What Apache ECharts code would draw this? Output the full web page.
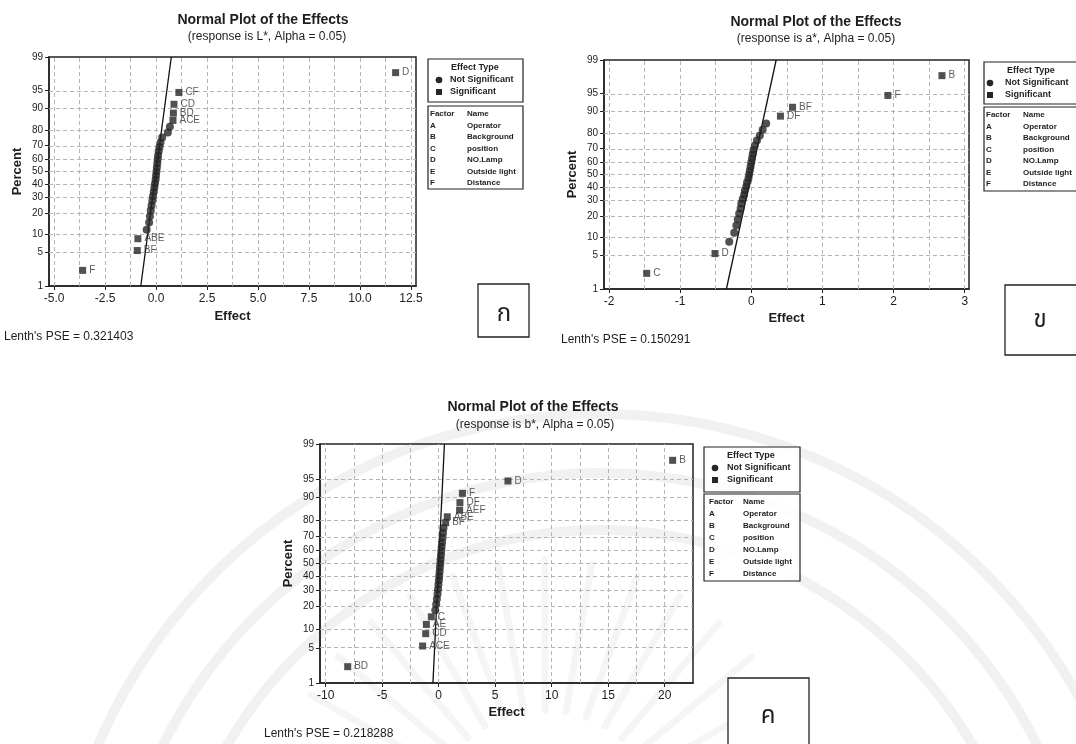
<!DOCTYPE html>
<html>
<head>
<meta charset="utf-8">
<script src="https://cdn.jsdelivr.net/npm/echarts@6/dist/echarts.min.js"></script>
<style>
  html, body { margin: 0; padding: 0; background: #fff; }
  #chart { width: 1076px; height: 744px; }
</style>
</head>
<body>
<div id="chart"></div>
<script>
// Percent ticks of the normal probability axis
const percentTicks = [1, 5, 10, 20, 30, 40, 50, 60, 70, 80, 90, 95, 99];

// Response L*: effects in ascending order, term names ('' = not significant)
const effectsL = [-3.60, -0.92, -0.89, -0.46, -0.34, -0.30, -0.26, -0.22, -0.18, -0.15,
                  -0.11, -0.08, -0.05, -0.02, 0.00, 0.02, 0.04, 0.06, 0.08, 0.10,
                  0.13, 0.17, 0.22, 0.30, 0.58, 0.68, 0.83, 0.85, 0.88, 1.12, 11.75];
const termsL = ['F', 'BF', 'ABE', '', '', '', '', '', '', '',
                '', '', '', '', '', '', '', '', '', '',
                '', '', '', '', '', '', 'ACE', 'BD', 'CD', 'CF', 'D'];
const pseL = 0.321403;
const xTicksL = [-5.0, -2.5, 0.0, 2.5, 5.0, 7.5, 10.0, 12.5];

// Response a*
const effectsA = [-1.47, -0.51, -0.31, -0.24, -0.21, -0.19, -0.17, -0.15, -0.14, -0.12,
                  -0.10, -0.09, -0.07, -0.06, -0.04, -0.03, -0.02, -0.01, 0.00, 0.01,
                  0.02, 0.03, 0.05, 0.08, 0.12, 0.16, 0.21, 0.41, 0.58, 1.92, 2.68];
const termsA = ['C', 'D', '', '', '', '', '', '', '', '',
                '', '', '', '', '', '', '', '', '', '',
                '', '', '', '', '', '', '', 'DF', 'BF', 'F', 'B'];
const pseA = 0.150291;
const xTicksA = [-2, -1, 0, 1, 2, 3];

// Response b*
const effectsB = [-8.05, -1.42, -1.15, -1.09, -0.65, -0.30, -0.22, -0.16, -0.10, -0.06,
                  -0.02, 0.02, 0.05, 0.08, 0.11, 0.14, 0.17, 0.20, 0.23, 0.26,
                  0.30, 0.34, 0.38, 0.43, 0.62, 0.76, 1.85, 1.88, 2.10, 6.13, 20.70];
const termsB = ['BD', 'ACE', 'CD', 'AE', 'C', '', '', '', '', '',
                '', '', '', '', '', '', '', '', '', '',
                '', '', '', '', 'BF', 'ABE', 'AEF', 'DF', 'F', 'D', 'B'];
const pseB = 0.218288;
const xTicksB = [-10, -5, 0, 5, 10, 15, 20];

// Factor table shown beside each plot
const factorCodes = ['A', 'B', 'C', 'D', 'E', 'F'];
const factorNames = ['Operator', 'Background', 'position', 'NO.Lamp', 'Outside light', 'Distance'];

const FONT = 'Liberation Sans, Arial, sans-serif';
const INK = '#1e1e1e';

// Inverse standard normal CDF (Acklam) for the probability axis
function invNorm(p) {
  const a = [-3.969683028665376e+01, 2.209460984245205e+02, -2.759285104469687e+02,
             1.383577518672690e+02, -3.066479806614716e+01, 2.506628277459239e+00];
  const b = [-5.447609879822406e+01, 1.615858368580409e+02, -1.556989798598866e+02,
             6.680131188771972e+01, -1.328068155288572e+01];
  const c = [-7.784894002430293e-03, -3.223964580411365e-01, -2.400758277161838e+00,
             -2.549732539343734e+00, 4.374664141464968e+00, 2.938163982698783e+00];
  const d = [7.784695709041462e-03, 3.224671290700398e-01, 2.445134137142996e+00,
             3.754408661907416e+00];
  const pl = 0.02425, ph = 1 - pl;
  let q, r;
  if (p < pl) {
    q = Math.sqrt(-2 * Math.log(p));
    return (((((c[0]*q+c[1])*q+c[2])*q+c[3])*q+c[4])*q+c[5]) / ((((d[0]*q+d[1])*q+d[2])*q+d[3])*q+1);
  }
  if (p <= ph) {
    q = p - 0.5; r = q * q;
    return (((((a[0]*r+a[1])*r+a[2])*r+a[3])*r+a[4])*r+a[5])*q / (((((b[0]*r+b[1])*r+b[2])*r+b[3])*r+b[4])*r+1);
  }
  q = Math.sqrt(-2 * Math.log(1 - p));
  return -(((((c[0]*q+c[1])*q+c[2])*q+c[3])*q+c[4])*q+c[5]) / ((((d[0]*q+d[1])*q+d[2])*q+d[3])*q+1);
}

const zTicks = percentTicks.map(p => invNorm(p / 100));
const Z_LO = zTicks[0], Z_HI = zTicks[zTicks.length - 1];

function percentLabel(v) {
  let best = 0, bd = Infinity;
  zTicks.forEach((z, i) => { const dd = Math.abs(z - v); if (dd < bd) { bd = dd; best = i; } });
  return String(percentTicks[best]);
}

// Plotting position of the i-th ordered effect (Bernard's median rank)
function plotPosition(i, n) { return invNorm((i + 1 - 0.3) / (n + 0.4)); }

const panels = [
  { effects: effectsL, terms: termsL, pse: pseL, ticks: xTicksL, decimals: 1,
    xMin: -5.25, xMax: 12.75, grid: { left: 49, top: 57, width: 367, height: 229 }, gapY: 25, gapX: 24 },
  { effects: effectsA, terms: termsA, pse: pseA, ticks: xTicksA, decimals: 0,
    xMin: -2.07, xMax: 3.06, grid: { left: 604, top: 60, width: 365, height: 229 }, gapY: 25, gapX: 23 },
  { effects: effectsB, terms: termsB, pse: pseB, ticks: xTicksB, decimals: 0,
    xMin: -10.5, xMax: 22.5, grid: { left: 320, top: 444, width: 373, height: 239 }, gapY: 25, gapX: 23 }
];

const grid = [], xAxis = [], yAxis = [], series = [];

panels.forEach((pl, k) => {
  grid.push(Object.assign({ show: true, borderColor: '#222', borderWidth: 1.5,
    backgroundColor: 'transparent', containLabel: false, outerBoundsMode: 'none' }, pl.grid));

  // vertical grid lines at major ticks and halfway between them
  const step = pl.ticks[1] - pl.ticks[0];
  const vLines = [];
  pl.ticks.forEach(t => { vLines.push(t); vLines.push(t + step / 2); });
  vLines.push(pl.ticks[0] - step / 2);
  const gridLines = vLines.filter(v => v > pl.xMin && v < pl.xMax).map(v => ({ xAxis: v }))
    .concat(zTicks.slice(1, -1).map(z => ({ yAxis: z })));

  xAxis.push({
    type: 'value', gridIndex: k, min: pl.xMin, max: pl.xMax,
    name: 'Effect', nameLocation: 'middle', nameGap: pl.gapX,
    nameTextStyle: { fontFamily: FONT, fontWeight: 'bold', fontSize: 13, color: INK },
    axisLine: { show: true, onZero: false, lineStyle: { color: '#222', width: 1.5 } },
    axisTick: { show: true, inside: false, length: 4, customValues: pl.ticks, lineStyle: { color: '#222' } },
    axisLabel: { customValues: pl.ticks, margin: 7, fontFamily: FONT, fontSize: 12, color: INK,
      formatter: v => v.toFixed(pl.decimals) },
    splitLine: { show: false }
  });
  yAxis.push({
    type: 'value', gridIndex: k, min: Z_LO, max: Z_HI,
    name: 'Percent', nameLocation: 'middle', nameRotate: 90, nameGap: pl.gapY,
    nameTextStyle: { fontFamily: FONT, fontWeight: 'bold', fontSize: 13, color: INK },
    axisLine: { show: true, onZero: false, lineStyle: { color: '#222', width: 1.5 } },
    axisTick: { show: true, inside: false, length: 4, customValues: zTicks, lineStyle: { color: '#222' } },
    axisLabel: { customValues: zTicks, margin: 6, fontFamily: FONT, fontSize: 10, color: INK,
      formatter: percentLabel },
    splitLine: { show: false }
  });

  // reference line: effect = PSE * z
  series.push({
    type: 'line', xAxisIndex: k, yAxisIndex: k, z: 3, silent: true,
    symbol: 'none', lineStyle: { color: '#111', width: 1.3 },
    data: [[pl.pse * Z_LO, Z_LO], [pl.pse * Z_HI, Z_HI]],
    markLine: {
      z: 1, silent: true, symbol: ['none', 'none'], label: { show: false },
      lineStyle: { color: '#b4b4b4', width: 1, type: [4, 3] },
      data: gridLines
    }
  });

  const n = pl.effects.length;
  const plain = [], marked = [];
  pl.effects.forEach((e, i) => {
    const z = plotPosition(i, n);
    if (pl.terms[i]) marked.push({ value: [e, z], name: pl.terms[i] });
    else plain.push([e, z]);
  });

  series.push({
    type: 'scatter', xAxisIndex: k, yAxisIndex: k, z: 4, silent: true,
    symbol: 'circle', symbolSize: 8, itemStyle: { color: '#262626' }, data: plain
  });
  series.push({
    type: 'scatter', xAxisIndex: k, yAxisIndex: k, z: 5, silent: true,
    symbol: 'rect', symbolSize: 7, itemStyle: { color: '#262626' }, data: marked,
    label: { show: true, position: 'right', distance: 3, formatter: '{b}',
      fontFamily: FONT, fontSize: 10, color: '#333' },
    labelLayout: { moveOverlap: 'shiftY' }
  });
});

// ---- text, legends and tag boxes ----
const graphic = [];

function text(x, y, str, size, opts) {
  graphic.push({ type: 'text', x: x, y: y, z: 10, silent: true,
    style: Object.assign({ text: str, fontFamily: FONT, fontSize: size, fill: INK,
      textAlign: 'left', textVerticalAlign: 'middle' }, opts || {}) });
}
function box(x, y, w, h, lw) {
  graphic.push({ type: 'rect', z: 10, silent: true, shape: { x: x, y: y, width: w, height: h },
    style: { fill: 'rgba(255,255,255,0.85)', stroke: '#222', lineWidth: lw || 1.2 } });
}

function titleBlock(cx, y1, cx2, y2, resp) {
  text(cx, y1, 'Normal Plot of the Effects', 14, { fontWeight: 'bold', textAlign: 'center' });
  text(cx2, y2, '(response is ' + resp + ', Alpha = 0.05)', 12, { textAlign: 'center' });
}

function legendBlock(bx, by, bw, bh, fy, fh, symX, txtX, headX, rowGap, nameX, codeX) {
  box(bx, by, bw, bh);
  text(headX, by + 9, 'Effect Type', 9, { fontWeight: 'bold' });
  graphic.push({ type: 'circle', z: 11, silent: true, shape: { cx: symX, cy: by + 21, r: 3.3 }, style: { fill: '#262626' } });
  text(txtX, by + 21, 'Not Significant', 9, { fontWeight: 'bold' });
  graphic.push({ type: 'rect', z: 11, silent: true, shape: { x: symX - 3, y: by + 30, width: 6, height: 6 }, style: { fill: '#262626' } });
  text(txtX, by + 33, 'Significant', 9, { fontWeight: 'bold' });
  box(bx, fy, bw, fh);
  text(codeX, fy + 8, 'Factor', 8, { fontWeight: 'bold' });
  text(nameX, fy + 8, 'Name', 8, { fontWeight: 'bold' });
  factorCodes.forEach((c, i) => {
    text(codeX, fy + 19.5 + i * rowGap, c, 8, { fontWeight: 'bold' });
    text(nameX, fy + 19.5 + i * rowGap, factorNames[i], 8, { fontWeight: 'bold' });
  });
}

function tagBox(x, y, w, h, letter, lx, ly) {
  graphic.push({ type: 'rect', z: 10, silent: true, shape: { x: x, y: y, width: w, height: h },
    style: { fill: '#fff', stroke: '#222', lineWidth: 1.3 } });
  text(lx, ly, letter, 24, { textAlign: 'center', fontFamily: 'Noto Sans Thai, Loma, Garuda, Noto Sans, sans-serif' });
}

// faint seal in the background of the lower plot
const sealArcs = [546, 487, 430];
sealArcs.forEach(r => {
  graphic.push({ type: 'arc', z: 0, silent: true,
    shape: { cx: 600, cy: 960, r: r, startAngle: Math.PI * 1.1, endAngle: Math.PI * 1.9 },
    style: { stroke: 'rgba(0,0,0,0.055)', lineWidth: 10, fill: null } });
});
for (let ang = -150; ang <= -30; ang += 10) {
  const t = ang * Math.PI / 180;
  graphic.push({ type: 'line', z: 0, silent: true,
    shape: { x1: 545 + 120 * Math.cos(t), y1: 830 + 120 * Math.sin(t),
             x2: 545 + 270 * Math.cos(t), y2: 830 + 270 * Math.sin(t) },
    style: { stroke: 'rgba(0,0,0,0.04)', lineWidth: 7, lineCap: 'round' } });
}

// panel ก (L*)
titleBlock(263, 20, 267, 37, 'L*');
legendBlock(428, 59, 95, 43, 106, 83, 439, 450, 451, 11.5, 467, 430);
text(4, 337, "Lenth's PSE = 0.321403", 12);
tagBox(478, 284, 51, 53, 'ก', 504, 316);

// panel ข (a*)
titleBlock(816, 22, 816, 39, 'a*');
legendBlock(984, 62, 100, 42, 107, 84, 990, 1005, 1007, 11.5, 1023, 986);
text(561, 340, "Lenth's PSE = 0.150291", 12);
tagBox(1005, 285, 80, 70, 'ข', 1040, 322);

// panel ค (b*)
titleBlock(533, 407, 535, 425, 'b*');
legendBlock(704, 447, 96, 45, 494, 87, 715, 727, 727, 12, 743, 709);
text(264, 734, "Lenth's PSE = 0.218288", 12);
tagBox(728, 678, 81, 75, 'ค', 768, 718);

const chart = echarts.init(document.getElementById('chart'), null, { renderer: 'canvas' });
chart.setOption({
  animation: false,
  backgroundColor: '#fff',
  grid: grid, xAxis: xAxis, yAxis: yAxis, series: series, graphic: graphic
});
</script>
</body>
</html>
